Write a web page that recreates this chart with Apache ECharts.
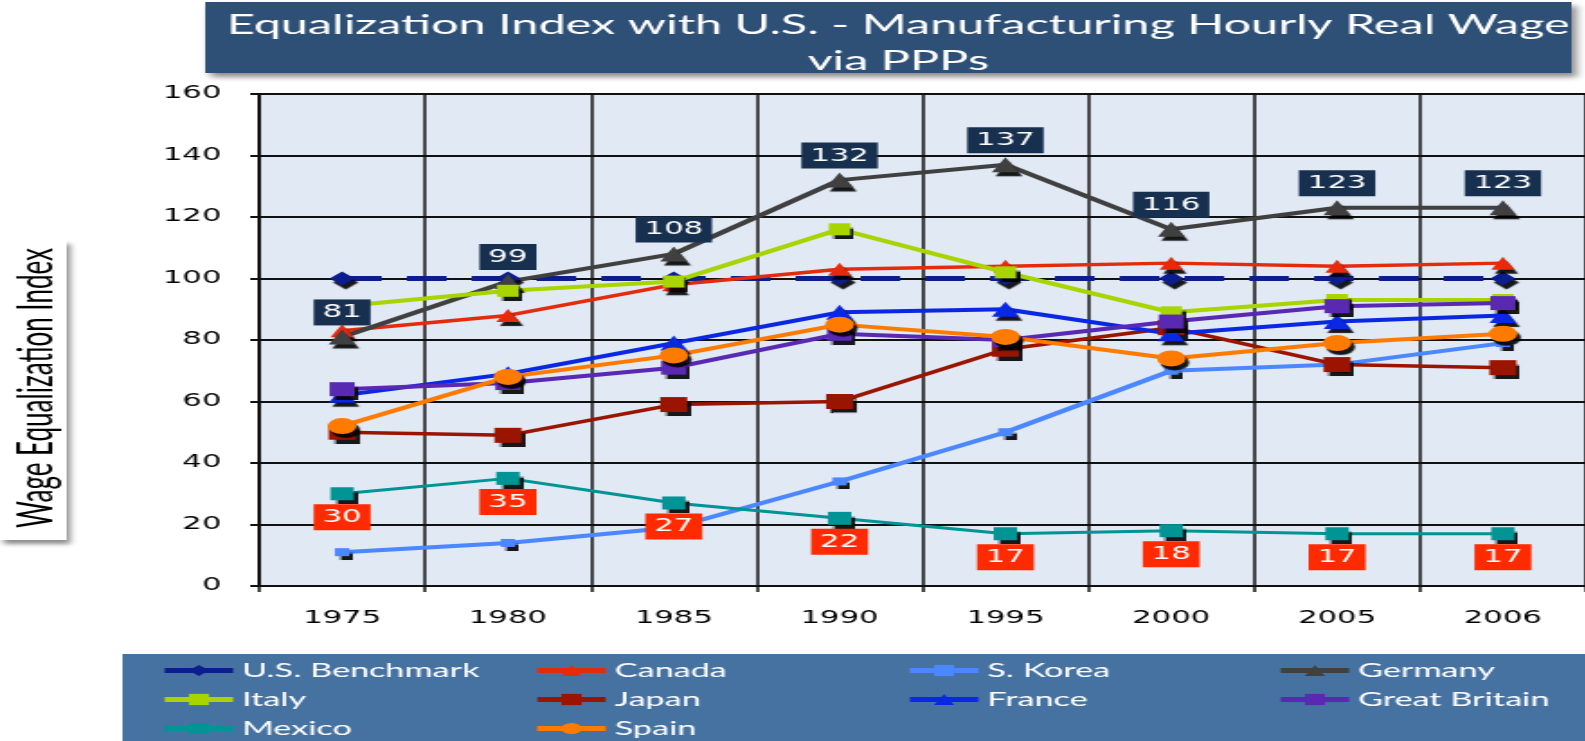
<!DOCTYPE html>
<html>
<head>
<meta charset="utf-8">
<script src="https://cdn.jsdelivr.net/npm/echarts@6/dist/echarts.min.js"></script>
<style>
  html, body { margin: 0; padding: 0; background: #fff; overflow: hidden; }
  /* the source picture is stretched sideways, so the chart is drawn narrow and widened */
  #chart { width: 881px; height: 741px; transform: scaleX(1.8); transform-origin: 0 0; }
</style>
</head>
<body>
<div id="chart"></div>
<script>
const years = ['1975', '1980', '1985', '1990', '1995', '2000', '2005', '2006'];

const usBenchmark = [100, 100, 100, 100, 100, 100, 100, 100];
const canada = [83, 88, 98, 103, 104, 105, 104, 105];
const sKorea = [11, 14, 19, 34, 50, 70, 72, 79];
const germany = [81, 99, 108, 132, 137, 116, 123, 123];
const italy = [91, 96, 99, 116, 102, 89, 93, 93];
const japan = [50, 49, 59, 60, 77, 84, 72, 71];
const france = [62, 69, 79, 89, 90, 82, 86, 88];
const greatBritain = [64, 66, 71, 82, 80, 86, 91, 92];
const mexico = [30, 35, 27, 22, 17, 18, 17, 17];
const spain = [52, 68, 75, 85, 81, 74, 79, 82];

const chart = echarts.init(document.getElementById('chart'));

const markShadow = {
  shadowColor: 'rgba(0,0,0,0.9)',
  shadowBlur: 1,
  shadowOffsetX: 2,
  shadowOffsetY: 4,
};

const makeSeries = (name, data, color, symbol, size, width, extra) => Object.assign({
  name: name,
  type: 'line',
  data: data,
  symbol: symbol,
  symbolSize: size,
  showAllSymbol: true,
  lineStyle: { color: color, width: width },
  itemStyle: Object.assign({ color: color }, markShadow),
  emphasis: { disabled: true },
  z: 3,
}, extra || {});

const boxLabel = (bg, pos) => ({
  show: true,
  position: pos,
  distance: 4,
  color: '#fff',
  fontFamily: 'DejaVu Sans',
  fontSize: 17,
  backgroundColor: bg,
  padding: [5, 5, 4, 5],
});

const legendBase = {
  orient: 'vertical',
  top: 661,
  height: 100,
  padding: 0,
  itemWidth: 38,
  itemHeight: 14,
  itemGap: 10,
  lineStyle: { width: 5 },
  textStyle: { color: '#fff', fontFamily: 'Lato', fontSize: 19, lineHeight: 14 },
};

const option = {
  animation: false,
  title: {
    text: 'Equalization Index with U.S. - Manufacturing Hourly Real Wage\nvia PPPs',
    left: 494,
    textAlign: 'center',
    top: 2,
    textStyle: { color: '#fff', fontFamily: 'Lato', fontSize: 27, fontWeight: 'normal', lineHeight: 36 },
    z: 10,
  },
  graphic: [
    {
      type: 'rect', z: 0, silent: true,
      shape: { x: 114, y: 2, width: 759, height: 71 },
      style: { fill: '#2e5076', shadowColor: 'rgba(0,0,0,0.45)', shadowBlur: 5, shadowOffsetX: 3, shadowOffsetY: 4 },
    },
    {
      type: 'rect', z: 0, silent: true,
      shape: { x: 0, y: 240, width: 37, height: 300 },
      style: { fill: '#fff', shadowColor: 'rgba(0,0,0,0.45)', shadowBlur: 4, shadowOffsetX: 2, shadowOffsetY: 4 },
    },
    {
      type: 'text', z: 1, silent: true,
      x: 21, y: 388, rotation: Math.PI / 2,
      style: {
        text: 'Wage Equalization Index',
        fill: '#000',
        font: '26px Lato',
        align: 'center',
        verticalAlign: 'middle',
      },
    },
    {
      type: 'rect', z: 0, silent: true,
      shape: { x: 68, y: 654, width: 813, height: 87 },
      style: { fill: '#4672a2' },
    },
  ],
  legend: [
    Object.assign({
      left: 89,
      data: [{ name: 'U.S. Benchmark', lineStyle: { type: 'solid' } }, 'Italy', 'Mexico'],
    }, legendBase),
    Object.assign({ left: 296, data: ['Canada', 'Japan', 'Spain'] }, legendBase),
    Object.assign({ left: 503, data: ['S. Korea', 'France'] }, legendBase),
    Object.assign({ left: 709, data: ['Germany', 'Great Britain'] }, legendBase),
  ],
  grid: {
    left: 144,
    right: 0,
    top: 94,
    bottom: 155,
    show: true,
    backgroundColor: '#e1e9f4',
    borderColor: '#111',
    borderWidth: 1.5,
  },
  xAxis: {
    type: 'category',
    data: years,
    boundaryGap: true,
    axisLine: { lineStyle: { color: '#111', width: 2 } },
    axisTick: { show: true, length: 6, lineStyle: { color: '#111', width: 1.5 } },
    splitLine: { show: true, lineStyle: { color: '#111', width: 1.5 } },
    axisLabel: { color: '#000', fontFamily: 'DejaVu Sans', fontSize: 17, margin: 24 },
  },
  yAxis: {
    type: 'value',
    min: 0,
    max: 160,
    interval: 20,
    axisLine: { show: true, lineStyle: { color: '#111', width: 1.5 } },
    axisTick: { show: true, length: 5, lineStyle: { color: '#111', width: 2 } },
    splitLine: { show: true, lineStyle: { color: '#111', width: 2 } },
    axisLabel: { color: '#000', fontFamily: 'DejaVu Sans', fontSize: 17, margin: 21 },
  },
  series: [
    makeSeries('U.S. Benchmark', usBenchmark, '#0c1d8e', 'diamond', 14, 5, {
      lineStyle: { color: '#0c1d8e', width: 5, type: [22, 14] },
    }),
    makeSeries('Canada', canada, '#e52b0c', 'triangle', 13, 3.5),
    makeSeries('S. Korea', sKorea, '#4b87ff', 'rect', 8, 4),
    makeSeries('Germany', germany, '#404040', 'triangle', 15, 4, {
      label: boxLabel('#17304f', 'top'),
    }),
    makeSeries('Italy', italy, '#a8d400', 'rect', 12, 4),
    makeSeries('Japan', japan, '#9b1400', 'rect', 15, 3.5),
    makeSeries('France', france, '#0a28e4', 'triangle', 15, 4),
    makeSeries('Great Britain', greatBritain, '#5a29b3', 'rect', 14, 4),
    makeSeries('Mexico', mexico, '#009494', 'rect', 13, 3, {
      label: boxLabel('#ff2a00', 'bottom'),
    }),
    makeSeries('Spain', spain, '#ff7b00', 'circle', 16, 4),
  ],
};

chart.setOption(option);
</script>
</body>
</html>
